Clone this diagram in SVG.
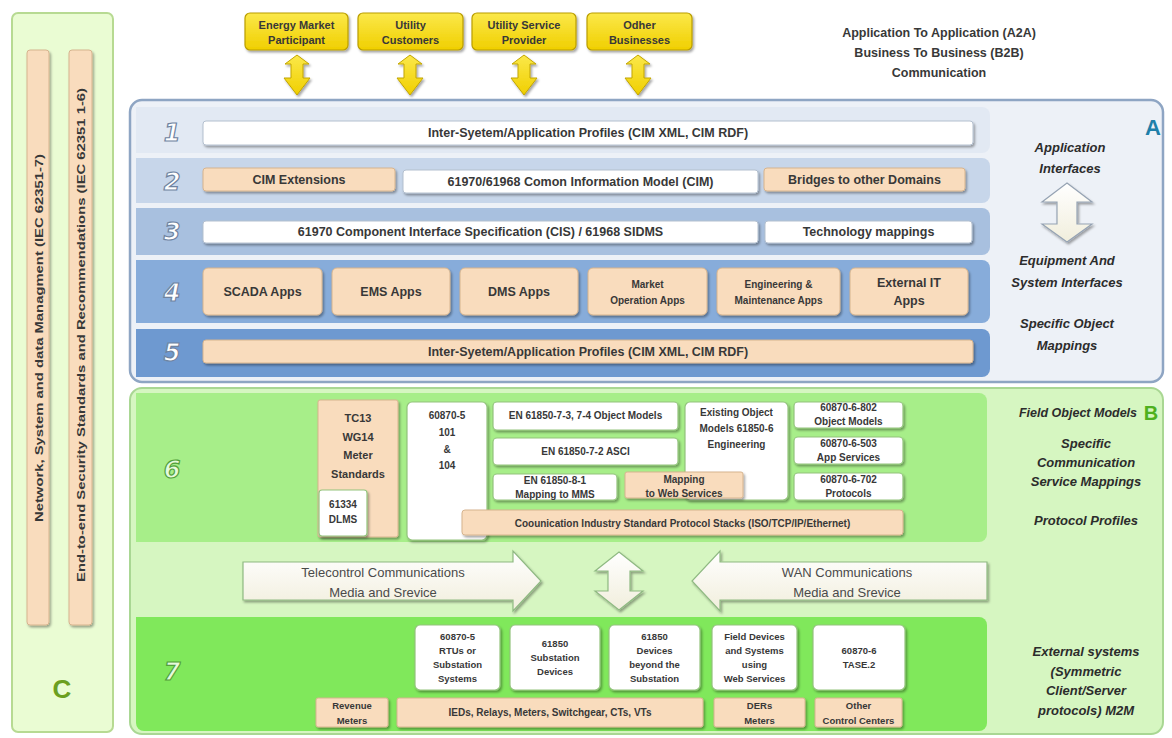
<svg xmlns="http://www.w3.org/2000/svg" width="1172" height="738" viewBox="0 0 1172 738">
  <defs>
    <filter id="sh" x="-10%" y="-10%" width="130%" height="140%">
      <feDropShadow dx="1.5" dy="2" stdDeviation="1.2" flood-color="#000" flood-opacity="0.35"/>
    </filter>
    <linearGradient id="yel" x1="0" y1="0" x2="0" y2="1">
      <stop offset="0" stop-color="#fbe84a"/>
      <stop offset="1" stop-color="#f0cf00"/>
    </linearGradient>
    <linearGradient id="cream" x1="0" y1="0" x2="0" y2="1">
      <stop offset="0" stop-color="#ffffff"/>
      <stop offset="1" stop-color="#f1eedc"/>
    </linearGradient>
    <path id="ydbl" d="M0,-20 L12,-11 L6,-11 L6,3 L13,3 L0,20 L-13,3 L-6,3 L-6,-11 L-12,-11 Z"/>
  </defs>
  <style>
    .t { font-family: "Liberation Sans", Arial, sans-serif; font-weight: bold; fill: #383838; text-anchor: middle; dominant-baseline: central; }
    .s12 { font-size: 12.5px; }
    .s11 { font-size: 11px; }
    .s10 { font-size: 10px; }
    .s9 { font-size: 9.5px; }
    .lbl { font-family: "Liberation Sans", Arial, sans-serif; font-weight: bold; font-style: italic; font-size: 13px; fill: #2c2c2c; text-anchor: middle; dominant-baseline: central; }
    .arrtxt { font-family: "Liberation Sans", Arial, sans-serif; font-size: 13px; fill: #4a4a4a; text-anchor: middle; dominant-baseline: central; }
    .num { font-family: "DejaVu Sans", sans-serif; font-weight: bold; font-style: italic; font-size: 24px; fill: #ffffff; stroke: #6f839f; stroke-width: 1.2; text-anchor: middle; dominant-baseline: central; }
    .numg { font-family: "DejaVu Sans", sans-serif; font-weight: bold; font-style: italic; font-size: 24px; fill: #e6fadc; stroke: #52a03a; stroke-width: 1.2; text-anchor: middle; dominant-baseline: central; }
    .wb { fill: #ffffff; stroke: #b4c0cf; stroke-width: 1; filter: url(#sh); }
    .pb { fill: #f9dcbd; stroke: #d6b48e; stroke-width: 1; filter: url(#sh); }
    .gb { fill: #ffffff; stroke: #93c47d; stroke-width: 1.2; filter: url(#sh); }
    .yb { fill: url(#yel); stroke: #b99d00; stroke-width: 1.2; filter: url(#sh); }
    .ya { fill: url(#yel); stroke: #c2a500; stroke-width: 1; filter: url(#sh); }
    .wa { fill: url(#cream); stroke: #8fb982; stroke-width: 1.2; filter: url(#sh); }
  </style>

  <rect width="1172" height="738" fill="#ffffff"/>

  <!-- Column C: cross-cutting management and security standards -->
  <g id="panel-c">
    <rect x="12" y="13" width="101" height="719" rx="6" fill="#eafcd3" stroke="#b7da92" stroke-width="2"/>
    <rect x="27" y="50" width="22" height="575" rx="3" class="pb"/>
    <rect x="69" y="50" width="23" height="575" rx="3" class="pb"/>
    <text class="t s11" transform="translate(39,338) rotate(-90)" textLength="368" lengthAdjust="spacingAndGlyphs">Network, System and data Managment (IEC 62351-7)</text>
    <text class="t s11" transform="translate(81,335) rotate(-90)" textLength="494" lengthAdjust="spacingAndGlyphs">End-to-end Security Standards and Recommendations (IEC 62351 1-6)</text>
    <text x="62" y="689" class="t" style="font-size:26px;fill:#6b9f20">C</text>
  </g>

  <!-- Business participants -->
  <g id="energy-market">
    <rect x="245" y="13" width="103" height="37" rx="5" class="yb"/>
    <text x="296.5" y="25" class="t s11">Energy Market</text>
    <text x="296.5" y="40" class="t s11">Participant</text>
  </g>
  <g id="utility-customers">
    <rect x="358" y="13" width="105" height="37" rx="5" class="yb"/>
    <text x="410.5" y="25" class="t s11">Utility</text>
    <text x="410.5" y="40" class="t s11">Customers</text>
  </g>
  <g id="utility-service-provider">
    <rect x="472" y="13" width="104" height="37" rx="5" class="yb"/>
    <text x="524" y="25" class="t s11">Utility Service</text>
    <text x="524" y="40" class="t s11">Provider</text>
  </g>
  <g id="other-businesses">
    <rect x="587" y="13" width="105" height="37" rx="5" class="yb"/>
    <text x="639.5" y="25" class="t s11">Odher</text>
    <text x="639.5" y="40" class="t s11">Businesses</text>
  </g>

  <g id="a2a-caption">
    <text x="939" y="33" class="t s12">Application To Application (A2A)</text>
    <text x="939" y="53" class="t s12">Business To Business (B2B)</text>
    <text x="939" y="73" class="t s12">Communication</text>
  </g>

  <!-- Panel A: application layers 1-5 -->
  <g id="panel-a">
    <rect x="130" y="100" width="1033" height="282" rx="12" fill="#edf1f7" stroke="#8ea5c3" stroke-width="2.5"/>
    <path d="M136,107 H982 a8,8 0 0 1 8,8 V145 a8,8 0 0 1 -8,8 H136 Z" fill="#e2e9f3"/>
    <path d="M136,158 H982 a8,8 0 0 1 8,8 V195 a8,8 0 0 1 -8,8 H136 Z" fill="#c7d6ea"/>
    <path d="M136,208 H982 a8,8 0 0 1 8,8 V247 a8,8 0 0 1 -8,8 H136 Z" fill="#a8c0df"/>
    <path d="M136,260 H982 a8,8 0 0 1 8,8 V315 a8,8 0 0 1 -8,8 H136 Z" fill="#87acda"/>
    <path d="M136,329 H982 a8,8 0 0 1 8,8 V369 a8,8 0 0 1 -8,8 H136 Z" fill="#6e99d0"/>
    <text x="1153" y="127" class="t" style="font-size:22px;fill:#1e7fa9">A</text>
    <text x="1070" y="147" class="lbl">Application</text>
    <text x="1070" y="168" class="lbl">Interfaces</text>
    <text x="1067" y="260" class="lbl">Equipment And</text>
    <text x="1067" y="282" class="lbl">System Interfaces</text>
    <text x="1067" y="323" class="lbl">Specific Object</text>
    <text x="1067" y="345" class="lbl">Mappings</text>
  </g>

  <g id="layer-1">
    <text x="172" y="133" class="num">1</text>
    <rect x="203" y="121" width="770" height="24" rx="3" class="wb"/>
    <text x="588" y="133" class="t s12">Inter-Syetem/Application Profiles (CIM XML, CIM RDF)</text>
  </g>
  <g id="layer-2">
    <text x="172" y="182" class="num">2</text>
    <rect x="203" y="168" width="192" height="23" rx="3" class="pb"/>
    <text x="299" y="179.5" class="t s12">CIM Extensions</text>
    <rect x="403" y="170" width="355" height="23" rx="3" class="wb"/>
    <text x="580.5" y="181.5" class="t s12">61970/61968  Comon Information Model (CIM)</text>
    <rect x="764" y="168" width="201" height="23" rx="3" class="pb"/>
    <text x="864.5" y="179.5" class="t s12">Bridges to other Domains</text>
  </g>
  <g id="layer-3">
    <text x="172" y="232" class="num">3</text>
    <rect x="203" y="221" width="555" height="22" rx="3" class="wb"/>
    <text x="480.5" y="232" class="t s12">61970 Component Interface Specification (CIS) / 61968  SIDMS</text>
    <rect x="765" y="221" width="207" height="22" rx="3" class="wb"/>
    <text x="868.5" y="232" class="t s12">Technology mappings</text>
  </g>
  <g id="layer-4">
    <text x="172" y="293" class="num">4</text>
    <rect x="203" y="268" width="119" height="47" rx="5" class="pb"/>
    <text x="262.5" y="292" class="t s12">SCADA Apps</text>
    <rect x="332" y="268" width="118" height="47" rx="5" class="pb"/>
    <text x="391" y="292" class="t s12">EMS Apps</text>
    <rect x="460" y="268" width="118" height="47" rx="5" class="pb"/>
    <text x="519" y="292" class="t s12">DMS Apps</text>
    <rect x="588" y="268" width="119" height="47" rx="5" class="pb"/>
    <text x="647.5" y="284" class="t s10">Market</text>
    <text x="647.5" y="300" class="t s10">Operation Apps</text>
    <rect x="717" y="268" width="123" height="47" rx="5" class="pb"/>
    <text x="778.5" y="284" class="t s10">Engineering &amp;</text>
    <text x="778.5" y="300" class="t s10">Maintenance  Apps</text>
    <rect x="850" y="268" width="118" height="47" rx="5" class="pb"/>
    <text x="909" y="283" class="t s12">External IT</text>
    <text x="909" y="301" class="t s12">Apps</text>
  </g>
  <g id="layer-5">
    <text x="172" y="353" class="num">5</text>
    <rect x="203" y="340" width="770" height="23" rx="3" class="pb"/>
    <text x="588" y="351.5" class="t s12">Inter-Syetem/Application Profiles (CIM XML, CIM RDF)</text>
  </g>

  <!-- Panel B: field layers 6-7 -->
  <g id="panel-b">
    <rect x="130" y="388" width="1033" height="346" rx="12" fill="#d6f6c1" stroke="#a9d793" stroke-width="2"/>
    <path d="M136,393 H979 a8,8 0 0 1 8,8 V534 a8,8 0 0 1 -8,8 H136 Z" fill="#a7ee89"/>
    <path d="M136,617 H979 a8,8 0 0 1 8,8 V723 a8,8 0 0 1 -8,8 H144 a8,8 0 0 1 -8,-8 Z" fill="#80e85b"/>
    <text x="1151" y="413" class="t" style="font-size:20px;fill:#4fb01e">B</text>
    <text x="1078" y="413" class="lbl" style="font-size:12.5px">Field Object Models</text>
    <text x="1086" y="443" class="lbl">Specific</text>
    <text x="1086" y="462" class="lbl">Communication</text>
    <text x="1086" y="481" class="lbl">Service Mappings</text>
    <text x="1086" y="520" class="lbl">Protocol Profiles</text>
    <text x="1086" y="651" class="lbl">External systems</text>
    <text x="1086" y="671" class="lbl">(Symmetric</text>
    <text x="1086" y="690" class="lbl">Client/Server</text>
    <text x="1086" y="710" class="lbl">protocols) M2M</text>
  </g>

  <g id="layer-6">
    <text x="172" y="470" class="numg">6</text>
    <g id="tc13">
      <rect x="318" y="400" width="80" height="137" rx="2" class="pb"/>
      <text x="358" y="418" class="t s11">TC13</text>
      <text x="358" y="437" class="t s11">WG14</text>
      <text x="358" y="455" class="t s11">Meter</text>
      <text x="358" y="474" class="t s11">Standards</text>
    </g>
    <g id="dlms">
      <rect x="319" y="490" width="48" height="46" rx="3" class="gb"/>
      <text x="343" y="504" class="t s10">61334</text>
      <text x="343" y="519" class="t s10">DLMS</text>
    </g>
    <g id="iec60870-5-101-104">
      <rect x="407" y="402" width="80" height="138" rx="5" class="gb"/>
      <text x="447" y="415" class="t s10">60870-5</text>
      <text x="447" y="432" class="t s10">101</text>
      <text x="447" y="449" class="t s10">&amp;</text>
      <text x="447" y="465" class="t s10">104</text>
    </g>
    <g id="en61850-7-3">
      <rect x="493" y="402" width="185" height="28" rx="4" class="gb"/>
      <text x="585.5" y="415" class="t s10">EN 61850-7-3, 7-4 Object Models</text>
    </g>
    <g id="en61850-7-2">
      <rect x="493" y="438" width="185" height="27" rx="4" class="gb"/>
      <text x="585.5" y="451" class="t s10">EN 61850-7-2 ASCI</text>
    </g>
    <g id="existing-models">
      <rect x="685" y="402" width="103" height="98" rx="5" class="gb"/>
      <text x="736.5" y="412" class="t s10">Existing Object</text>
      <text x="736.5" y="428" class="t s10">Models 61850-6</text>
      <text x="736.5" y="444" class="t s10">Engineering</text>
    </g>
    <g id="en61850-8-1">
      <rect x="493" y="474" width="124" height="26" rx="4" class="gb"/>
      <text x="555" y="480" class="t s10">EN 61850-8-1</text>
      <text x="555" y="494" class="t s10">Mapping to MMS</text>
    </g>
    <g id="web-services-mapping">
      <rect x="625" y="472" width="118" height="26" rx="2" class="pb"/>
      <text x="684" y="479" class="t s10">Mapping</text>
      <text x="684" y="493" class="t s10">to Web Services</text>
    </g>
    <g id="iec60870-6-802">
      <rect x="794" y="402" width="109" height="26" rx="4" class="gb"/>
      <text x="848.5" y="407" class="t s10">60870-6-802</text>
      <text x="848.5" y="421" class="t s10">Object Models</text>
    </g>
    <g id="iec60870-6-503">
      <rect x="794" y="437" width="109" height="27" rx="4" class="gb"/>
      <text x="848.5" y="443" class="t s10">60870-6-503</text>
      <text x="848.5" y="457" class="t s10">App Services</text>
    </g>
    <g id="iec60870-6-702">
      <rect x="794" y="473" width="109" height="27" rx="4" class="gb"/>
      <text x="848.5" y="479" class="t s10">60870-6-702</text>
      <text x="848.5" y="493" class="t s10">Protocols</text>
    </g>
    <g id="protocol-stacks">
      <rect x="462" y="510" width="441" height="25" rx="3" class="pb"/>
      <text x="682.5" y="523" class="t s10">Coounication Industry Standard Protocol Stacks (ISO/TCP/IP/Ethernet)</text>
    </g>
  </g>

  <g id="layer-7">
    <text x="172" y="672" class="numg">7</text>
    <g id="rtu">
      <rect x="415" y="625" width="85" height="65" rx="5" class="gb"/>
      <text x="457.5" y="636" class="t s9">60870-5</text>
      <text x="457.5" y="650" class="t s9">RTUs or</text>
      <text x="457.5" y="664" class="t s9">Substation</text>
      <text x="457.5" y="678" class="t s9">Systems</text>
    </g>
    <g id="substation-devices">
      <rect x="510" y="625" width="90" height="65" rx="5" class="gb"/>
      <text x="555" y="643" class="t s9">61850</text>
      <text x="555" y="657" class="t s9">Substation</text>
      <text x="555" y="671" class="t s9">Devices</text>
    </g>
    <g id="beyond-substation">
      <rect x="609" y="625" width="91" height="65" rx="5" class="gb"/>
      <text x="654.5" y="636" class="t s9">61850</text>
      <text x="654.5" y="650" class="t s9">Devices</text>
      <text x="654.5" y="664" class="t s9">beyond the</text>
      <text x="654.5" y="678" class="t s9">Substation</text>
    </g>
    <g id="field-devices">
      <rect x="712" y="625" width="85" height="65" rx="5" class="gb"/>
      <text x="754.5" y="636" class="t s9">Field Devices</text>
      <text x="754.5" y="650" class="t s9">and Systems</text>
      <text x="754.5" y="664" class="t s9">using</text>
      <text x="754.5" y="678" class="t s9">Web Services</text>
    </g>
    <g id="tase2">
      <rect x="813" y="625" width="92" height="65" rx="5" class="gb"/>
      <text x="859" y="650" class="t s9">60870-6</text>
      <text x="859" y="664" class="t s9">TASE.2</text>
    </g>
    <g id="revenue-meters">
      <rect x="316" y="698" width="72" height="29" rx="2" class="pb"/>
      <text x="352" y="705" class="t s9">Revenue</text>
      <text x="352" y="720" class="t s9">Meters</text>
    </g>
    <g id="ieds">
      <rect x="397" y="698" width="306" height="29" rx="2" class="pb"/>
      <text x="550" y="712.5" class="t s10">IEDs, Relays, Meters, Switchgear, CTs, VTs</text>
    </g>
    <g id="der-meters">
      <rect x="714" y="698" width="91" height="29" rx="2" class="pb"/>
      <text x="759.5" y="705" class="t s9">DERs</text>
      <text x="759.5" y="720" class="t s9">Meters</text>
    </g>
    <g id="control-centers">
      <rect x="815" y="698" width="87" height="29" rx="2" class="pb"/>
      <text x="858.5" y="705" class="t s9">Other</text>
      <text x="858.5" y="720" class="t s9">Control Centers</text>
    </g>
  </g>

  <!-- Connectors -->
  <g id="connectors">
    <use href="#ydbl" x="297" y="75" class="ya"/>
    <use href="#ydbl" x="410" y="75" class="ya"/>
    <use href="#ydbl" x="524" y="75" class="ya"/>
    <use href="#ydbl" x="638" y="75" class="ya"/>
    <path d="M1067,183 L1092,202 L1077,202 L1077,224 L1092,224 L1067,242 L1042,224 L1057,224 L1057,202 L1042,202 Z" fill="url(#cream)" stroke="#96a3b3" stroke-width="1.2" filter="url(#sh)"/>
    <path d="M619,552 L643,571 L630,571 L630,591 L643,591 L619,610 L595,591 L608,591 L608,571 L595,571 Z" class="wa"/>
    <g id="telecontrol-link">
      <path d="M243,562 L513,562 L513,551 L541,581 L513,611 L513,600 L243,600 Z" class="wa"/>
      <text x="383" y="572" class="arrtxt">Telecontrol Communications</text>
      <text x="383" y="592" class="arrtxt">Media and Srevice</text>
    </g>
    <g id="wan-link">
      <path d="M987,562 L720,562 L720,551 L692,581 L720,611 L720,600 L987,600 Z" class="wa"/>
      <text x="847" y="572" class="arrtxt">WAN Communications</text>
      <text x="847" y="592" class="arrtxt">Media and Srevice</text>
    </g>
  </g>
</svg>
